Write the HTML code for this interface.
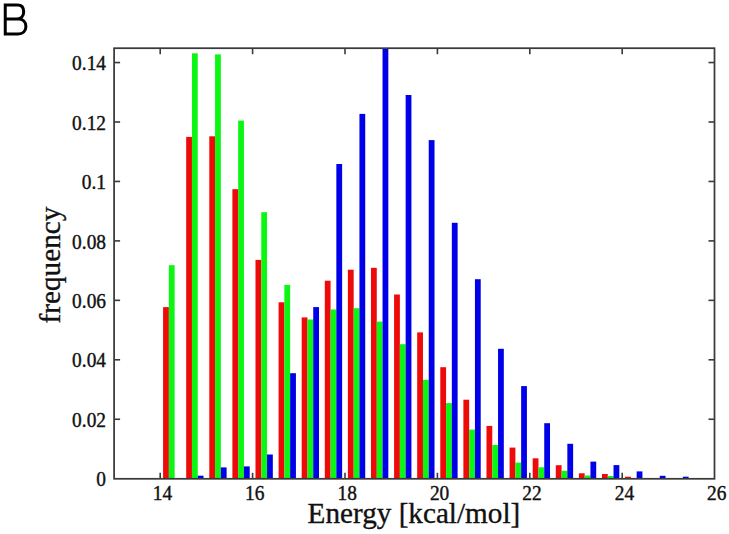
<!DOCTYPE html>
<html><head><meta charset="utf-8"><style>
html,body{margin:0;padding:0;background:#fff;}
body{width:729px;height:534px;overflow:hidden;font-family:"Liberation Sans",sans-serif;}
svg{display:block;}
</style></head><body>
<svg width="729" height="534" viewBox="0 0 729 534">
<rect width="729" height="534" fill="#fff"/>
<g><rect x="163.09" y="307.10" width="5.78" height="171.70" fill="#ee0a08"/><rect x="168.86" y="265.20" width="5.78" height="213.60" fill="#0cf614"/><rect x="186.19" y="136.90" width="5.78" height="341.90" fill="#ee0a08"/><rect x="191.96" y="53.30" width="5.78" height="425.50" fill="#0cf614"/><rect x="197.74" y="475.70" width="5.78" height="3.10" fill="#0000e8"/><rect x="209.29" y="136.30" width="5.78" height="342.50" fill="#ee0a08"/><rect x="215.06" y="54.40" width="5.78" height="424.40" fill="#0cf614"/><rect x="220.84" y="467.40" width="5.78" height="11.40" fill="#0000e8"/><rect x="232.39" y="189.20" width="5.78" height="289.60" fill="#ee0a08"/><rect x="238.16" y="120.60" width="5.78" height="358.20" fill="#0cf614"/><rect x="243.94" y="466.40" width="5.78" height="12.40" fill="#0000e8"/><rect x="255.49" y="259.90" width="5.78" height="218.90" fill="#ee0a08"/><rect x="261.26" y="212.20" width="5.78" height="266.60" fill="#0cf614"/><rect x="267.04" y="454.50" width="5.78" height="24.30" fill="#0000e8"/><rect x="278.59" y="302.30" width="5.78" height="176.50" fill="#ee0a08"/><rect x="284.36" y="284.90" width="5.78" height="193.90" fill="#0cf614"/><rect x="290.14" y="373.20" width="5.78" height="105.60" fill="#0000e8"/><rect x="301.69" y="317.40" width="5.78" height="161.40" fill="#ee0a08"/><rect x="307.46" y="319.50" width="5.78" height="159.30" fill="#0cf614"/><rect x="313.24" y="307.10" width="5.78" height="171.70" fill="#0000e8"/><rect x="324.79" y="280.70" width="5.78" height="198.10" fill="#ee0a08"/><rect x="330.56" y="309.50" width="5.78" height="169.30" fill="#0cf614"/><rect x="336.34" y="164.00" width="5.78" height="314.80" fill="#0000e8"/><rect x="347.89" y="269.70" width="5.78" height="209.10" fill="#ee0a08"/><rect x="353.66" y="308.20" width="5.78" height="170.60" fill="#0cf614"/><rect x="359.44" y="113.90" width="5.78" height="364.90" fill="#0000e8"/><rect x="370.99" y="267.80" width="5.78" height="211.00" fill="#ee0a08"/><rect x="376.76" y="321.60" width="5.78" height="157.20" fill="#0cf614"/><rect x="382.54" y="48.30" width="5.78" height="430.50" fill="#0000e8"/><rect x="394.09" y="294.50" width="5.78" height="184.30" fill="#ee0a08"/><rect x="399.86" y="344.20" width="5.78" height="134.60" fill="#0cf614"/><rect x="405.64" y="95.00" width="5.78" height="383.80" fill="#0000e8"/><rect x="417.19" y="332.40" width="5.78" height="146.40" fill="#ee0a08"/><rect x="422.96" y="379.80" width="5.78" height="99.00" fill="#0cf614"/><rect x="428.74" y="140.10" width="5.78" height="338.70" fill="#0000e8"/><rect x="440.29" y="367.20" width="5.78" height="111.60" fill="#ee0a08"/><rect x="446.06" y="403.10" width="5.78" height="75.70" fill="#0cf614"/><rect x="451.84" y="222.80" width="5.78" height="256.00" fill="#0000e8"/><rect x="463.39" y="399.70" width="5.78" height="79.10" fill="#ee0a08"/><rect x="469.16" y="429.60" width="5.78" height="49.20" fill="#0cf614"/><rect x="474.94" y="279.20" width="5.78" height="199.60" fill="#0000e8"/><rect x="486.49" y="425.90" width="5.78" height="52.90" fill="#ee0a08"/><rect x="492.26" y="445.00" width="5.78" height="33.80" fill="#0cf614"/><rect x="498.04" y="348.80" width="5.78" height="130.00" fill="#0000e8"/><rect x="509.59" y="447.60" width="5.78" height="31.20" fill="#ee0a08"/><rect x="515.36" y="462.60" width="5.78" height="16.20" fill="#0cf614"/><rect x="521.14" y="386.10" width="5.78" height="92.70" fill="#0000e8"/><rect x="532.69" y="458.30" width="5.78" height="20.50" fill="#ee0a08"/><rect x="538.46" y="467.30" width="5.78" height="11.50" fill="#0cf614"/><rect x="544.24" y="423.20" width="5.78" height="55.60" fill="#0000e8"/><rect x="555.79" y="465.20" width="5.78" height="13.60" fill="#ee0a08"/><rect x="561.56" y="470.80" width="5.78" height="8.00" fill="#0cf614"/><rect x="567.34" y="443.80" width="5.78" height="35.00" fill="#0000e8"/><rect x="578.89" y="473.30" width="5.78" height="5.50" fill="#ee0a08"/><rect x="584.66" y="475.50" width="5.78" height="3.30" fill="#0cf614"/><rect x="590.44" y="461.60" width="5.78" height="17.20" fill="#0000e8"/><rect x="601.99" y="474.00" width="5.78" height="4.80" fill="#ee0a08"/><rect x="607.76" y="476.00" width="5.78" height="2.80" fill="#0cf614"/><rect x="613.54" y="465.10" width="5.78" height="13.70" fill="#0000e8"/><rect x="625.09" y="476.70" width="5.78" height="2.10" fill="#ee0a08"/><rect x="636.64" y="471.40" width="5.78" height="7.40" fill="#0000e8"/><rect x="659.74" y="475.80" width="5.78" height="3.00" fill="#0000e8"/><rect x="682.84" y="476.70" width="5.78" height="2.10" fill="#0000e8"/></g>
<g stroke="#3a3a3a" stroke-width="1.6"><line x1="160.20" y1="478.8" x2="160.20" y2="472.8"/><line x1="160.20" y1="48.2" x2="160.20" y2="54.2"/><line x1="252.60" y1="478.8" x2="252.60" y2="472.8"/><line x1="252.60" y1="48.2" x2="252.60" y2="54.2"/><line x1="345.00" y1="478.8" x2="345.00" y2="472.8"/><line x1="345.00" y1="48.2" x2="345.00" y2="54.2"/><line x1="437.40" y1="478.8" x2="437.40" y2="472.8"/><line x1="437.40" y1="48.2" x2="437.40" y2="54.2"/><line x1="529.80" y1="478.8" x2="529.80" y2="472.8"/><line x1="529.80" y1="48.2" x2="529.80" y2="54.2"/><line x1="622.20" y1="478.8" x2="622.20" y2="472.8"/><line x1="622.20" y1="48.2" x2="622.20" y2="54.2"/><line x1="114.1" y1="419.25" x2="120.1" y2="419.25"/><line x1="714.5" y1="419.25" x2="708.5" y2="419.25"/><line x1="114.1" y1="359.80" x2="120.1" y2="359.80"/><line x1="714.5" y1="359.80" x2="708.5" y2="359.80"/><line x1="114.1" y1="300.35" x2="120.1" y2="300.35"/><line x1="714.5" y1="300.35" x2="708.5" y2="300.35"/><line x1="114.1" y1="240.90" x2="120.1" y2="240.90"/><line x1="714.5" y1="240.90" x2="708.5" y2="240.90"/><line x1="114.1" y1="181.45" x2="120.1" y2="181.45"/><line x1="714.5" y1="181.45" x2="708.5" y2="181.45"/><line x1="114.1" y1="122.00" x2="120.1" y2="122.00"/><line x1="714.5" y1="122.00" x2="708.5" y2="122.00"/><line x1="114.1" y1="62.55" x2="120.1" y2="62.55"/><line x1="714.5" y1="62.55" x2="708.5" y2="62.55"/></g>
<rect x="114.1" y="48.2" width="600.4" height="430.6" fill="none" stroke="#3a3a3a" stroke-width="1.75"/>
<g font-family="'Liberation Serif', serif" font-size="20.4" fill="#111" stroke="#111" stroke-width="0.4"><text transform="translate(106,486.30) scale(0.95,1)" text-anchor="end">0</text><text transform="translate(106,426.85) scale(0.95,1)" text-anchor="end">0.02</text><text transform="translate(106,367.40) scale(0.95,1)" text-anchor="end">0.04</text><text transform="translate(106,307.95) scale(0.95,1)" text-anchor="end">0.06</text><text transform="translate(106,248.50) scale(0.95,1)" text-anchor="end">0.08</text><text transform="translate(106,189.05) scale(0.95,1)" text-anchor="end">0.1</text><text transform="translate(106,129.60) scale(0.95,1)" text-anchor="end">0.12</text><text transform="translate(106,70.15) scale(0.95,1)" text-anchor="end">0.14</text><text transform="translate(162.40,499.5) scale(0.95,1)" text-anchor="middle">14</text><text transform="translate(254.80,499.5) scale(0.95,1)" text-anchor="middle">16</text><text transform="translate(347.20,499.5) scale(0.95,1)" text-anchor="middle">18</text><text transform="translate(439.60,499.5) scale(0.95,1)" text-anchor="middle">20</text><text transform="translate(532.00,499.5) scale(0.95,1)" text-anchor="middle">22</text><text transform="translate(624.40,499.5) scale(0.95,1)" text-anchor="middle">24</text><text transform="translate(716.80,499.5) scale(0.95,1)" text-anchor="middle">26</text></g>
<text x="307.6" y="522.5" font-family="'Liberation Serif', serif" font-size="29.2" fill="#111" stroke="#111" stroke-width="0.35">Energy [kcal/mol]</text>
<text transform="translate(59.5,323.4) rotate(-90)" font-family="'Liberation Serif', serif" font-size="29.2" fill="#111" stroke="#111" stroke-width="0.35">frequency</text>
<path d="M5.25,4.9 V33.9 M3.75,4.9 H17.5 C21.6,4.9 23.7,7.7 23.7,11.8 C23.7,16 21,19 17,19 H5.25 M5.25,19 H18.3 C22.9,19 25.9,21.8 25.9,26.4 C25.9,31.1 22.7,33.9 18,33.9 H3.75" fill="none" stroke="#000" stroke-width="3"/>
</svg>
</body></html>
